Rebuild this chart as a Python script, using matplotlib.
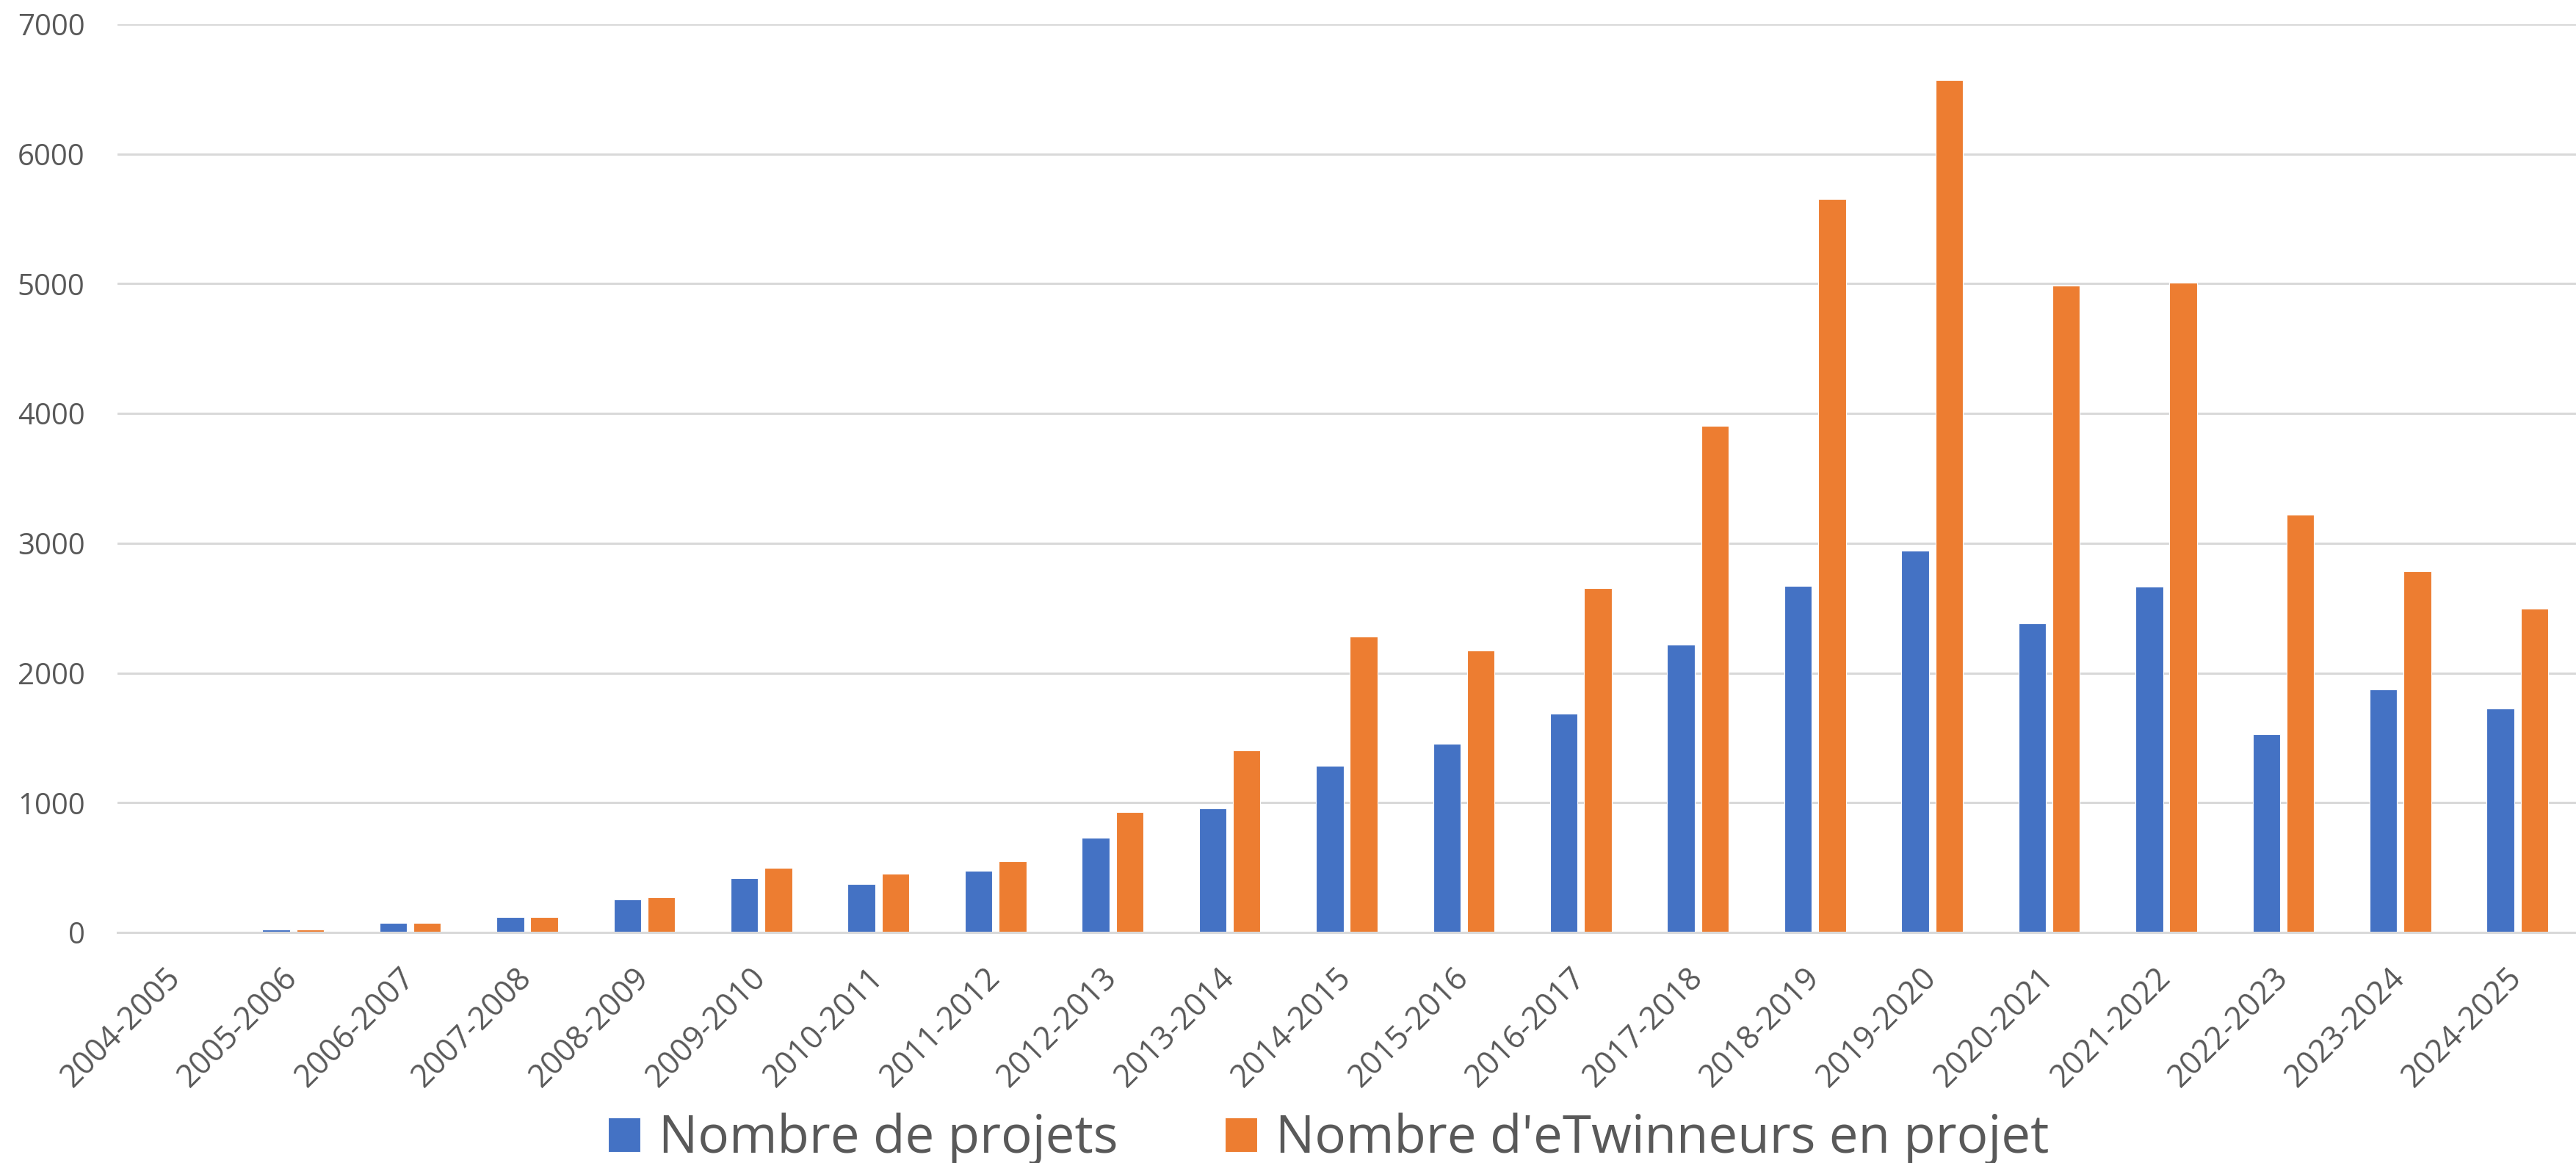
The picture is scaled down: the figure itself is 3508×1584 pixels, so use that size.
import numpy as np
import matplotlib
matplotlib.use("Agg")
import matplotlib.pyplot as plt

plt.rcParams['font.family'] = ['Open Sans', 'DejaVu Sans']

# -----------------------
# Data
# -----------------------
seasons = ["2004-2005", "2005-2006", "2006-2007", "2007-2008", "2008-2009",
           "2009-2010", "2010-2011", "2011-2012", "2012-2013", "2013-2014",
           "2014-2015", "2015-2016", "2016-2017", "2017-2018", "2018-2019",
           "2019-2020", "2020-2021", "2021-2022", "2022-2023", "2023-2024",
           "2024-2025"]
projets = [5, 23, 74, 120, 252, 417, 372, 475, 732, 955, 1286, 1452, 1687,
           2218, 2670, 2945, 2384, 2664, 1527, 1875, 1727]
etwinneurs = [5, 20, 74, 120, 274, 497, 452, 549, 926, 1401, 2281, 2173, 2653,
              3905, 5655, 6569, 4986, 5009, 3219, 2784, 2493]
yticks = [0, 1000, 2000, 3000, 4000, 5000, 6000, 7000]

label_projets = "Nombre de projets"
label_etw = "Nombre d'eTwinneurs en projet"

BLUE = "#4472C4"
ORANGE = "#ED7D31"
GRID = "#D9D9D9"
TEXT = "#595959"

W, H = 3508, 1584
fig = plt.figure(figsize=(W / 100, H / 100), dpi=100)
ax = fig.add_axes([160 / W, 1 - 1270 / H, (W - 160) / W, (1270 - 33) / H])

x = np.arange(len(seasons))
bw = 0.235
off = 0.145
b1 = ax.bar(x - off, projets, bw, color=BLUE, edgecolor="white", linewidth=0.8,
            label=label_projets, zorder=3)
b2 = ax.bar(x + off, etwinneurs, bw, color=ORANGE, edgecolor="white", linewidth=0.8,
            label=label_etw, zorder=3)

ax.set_xlim(-0.5, len(seasons) - 0.5)
ax.set_ylim(0, 7000)
ax.set_yticks(yticks)
ax.set_yticklabels([str(v) for v in yticks])
ax.yaxis.grid(True, color=GRID, linewidth=2.2, zorder=0)
ax.set_axisbelow(True)
for s in ["top", "right", "left"]:
    ax.spines[s].set_visible(False)
ax.spines["bottom"].set_color(GRID)
ax.spines["bottom"].set_linewidth(2.2)
ax.spines["bottom"].set_zorder(4)

ax.tick_params(axis="y", length=0, pad=32, labelsize=29, labelcolor=TEXT)
ax.tick_params(axis="x", length=0, pad=40, labelsize=31, labelcolor=TEXT)
ax.set_xticks(x)
ax.set_xticklabels(seasons, rotation=45, ha="right", va="center",
                   rotation_mode="anchor")

fig.legend(handles=[b1, b2], loc="lower center", ncol=2,
           bbox_to_anchor=(1809 / W, -0.029), frameon=False,
           fontsize=51, labelcolor=TEXT, handlelength=0.63, handleheight=0.63,
           handletextpad=0.35, columnspacing=2.05, borderpad=0.1)

fig.savefig("out.png", dpi=100)
